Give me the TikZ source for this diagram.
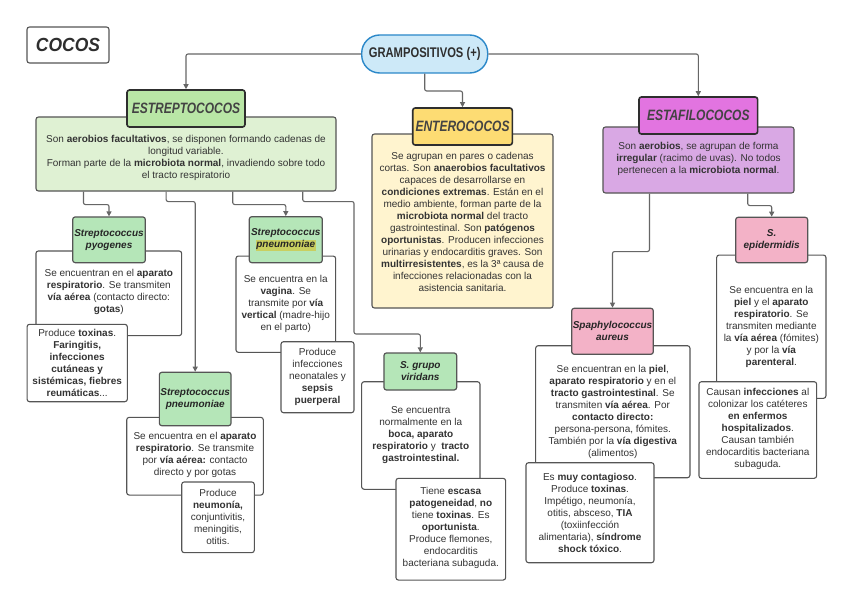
\documentclass[tikz,border=0pt]{standalone}
\usepackage{graphicx}
\usepackage{fontspec}
\setmainfont{Liberation Sans}
\usetikzlibrary{arrows.meta}
\definecolor{txtc}{HTML}{333333}
\definecolor{boxc}{HTML}{555555}
\definecolor{darkc}{HTML}{2E2E2E}
\definecolor{linec}{HTML}{666666}
\definecolor{gramfill}{HTML}{CDE9F8}
\definecolor{gramdraw}{HTML}{2B88C9}
\definecolor{strT}{HTML}{B9E6A6}
\definecolor{strD}{HTML}{DFF1D3}
\definecolor{spG}{HTML}{B5E6B8}
\definecolor{entT}{HTML}{FDDC73}
\definecolor{entD}{HTML}{FFF4CF}
\definecolor{estT}{HTML}{E274E0}
\definecolor{estD}{HTML}{D9A8E4}
\definecolor{spP}{HTML}{F3B2C7}
\definecolor{hl}{HTML}{C9CF60}
\newcommand\mytitle[1]{\scalebox{0.8}[1]{\fontsize{15}{15}\selectfont\bfseries\itshape #1}}
\begin{document}
\begin{tikzpicture}[x=1pt,y=-1pt,
  conn/.style={draw=linec, line width=1.1pt, rounded corners=2pt, -{Triangle[length=5pt,width=5pt]}},
  bigtitle/.style={draw=darkc, line width=1.6pt, rounded corners=2.5pt, fill=#1, inner sep=0pt, text=darkc!90},
  descbox/.style={draw=boxc, line width=1.1pt, rounded corners=2.5pt, fill=#1, inner sep=0pt},
  spt/.style={draw=boxc, line width=1.2pt, rounded corners=2.5pt, fill=#1, inner sep=0pt, align=center,
     font=\fontsize{10}{12}\selectfont\bfseries\itshape, text=black!85},
  body/.style={align=center, font=\fontsize{10}{12}\selectfont, text=txtc, inner sep=0pt}
]
\fill[white] (0,0) rectangle (848,599);
\useasboundingbox (0,0) rectangle (848,599);

% title
\node[draw=boxc, line width=1.1pt, rounded corners=2.5pt, fill=white, minimum width=82pt, minimum height=36pt, inner sep=0pt, text=darkc] (cocos) at (68,45) {\scalebox{0.92}[1]{\fontsize{19}{19}\selectfont\bfseries\itshape COCOS}};

\node[draw=gramdraw, line width=1.4pt, rounded corners=18pt, fill=gramfill, minimum width=126pt, minimum height=38pt, inner sep=0pt, text=darkc] (gram) at (424.7,54) {\scalebox{0.8}[1]{\fontsize{14}{14}\selectfont\bfseries GRAMPOSITIVOS (+)}};

% ESTREPTOCOCOS
\node[descbox=strD, minimum width=300pt, minimum height=74pt] (strepD) at (186,154) {};
\node[body] (strepDt) at (186,158) {Son \textbf{aerobios facultativos}, se disponen formando cadenas de\\longitud variable.\\Forman parte de la \textbf{microbiota normal}, invadiendo sobre todo\\el tracto respiratorio};
\node[bigtitle=strT, minimum width=118pt, minimum height=37pt] (strepT) at (186,108.5) {\mytitle{ESTREPTOCOCOS}};

% ENTEROCOCOS
\node[descbox=entD, minimum width=181pt, minimum height=174pt] (entD) at (462.5,221) {};
\node[body] (entDt) at (462.5,221.5) {Se agrupan en pares o cadenas\\cortas. Son \textbf{anaerobios facultativos}\\capaces de desarrollarse en\\\textbf{condiciones extremas}. Están en el\\medio ambiente, forman parte de la\\\textbf{microbiota normal} del tracto\\gastrointestinal. Son \textbf{patógenos}\\\textbf{oportunistas}. Producen infecciones\\urinarias y endocarditis graves. Son\\\textbf{multirresistentes}, es la 3ª causa de\\infecciones relacionadas con la\\asistencia sanitaria.};
\node[bigtitle=entT, minimum width=99.6pt, minimum height=37pt] (entT) at (462.5,126.5) {\mytitle{ENTEROCOCOS}};

% ESTAFILOCOCOS
\node[descbox=estD, minimum width=191pt, minimum height=66pt] (estD) at (698.5,160) {};
\node[body] (estDt) at (698.5,158.5) {Son \textbf{aerobios}, se agrupan de forma\\\textbf{irregular} (racimo de uvas). No todos\\pertenecen a la \textbf{microbiota normal}.};
\node[bigtitle=estT, minimum width=118.7pt, minimum height=37pt] (estT) at (698.3,115.5) {\mytitle{ESTAFILOCOCOS}};

% pyogenes
\node[descbox=white, minimum width=145.7pt, minimum height=84.7pt] (pyoD) at (108.8,293.3) {};
\node[body] (pyoDt) at (108.8,291.5) {Se encuentran en el \textbf{aparato}\\\textbf{respiratorio}. Se transmiten\\\textbf{vía aérea} (contacto directo:\\\textbf{gotas})};
\node[descbox=white, minimum width=100.3pt, minimum height=77.4pt] (pyoE) at (77.2,363) {};
\node[body] (pyoEt) at (77.2,362.5) {Produce \textbf{toxinas}.\\\textbf{Faringitis,}\\\textbf{infecciones}\\\textbf{cutáneas y}\\\textbf{sistémicas, fiebres}\\\textbf{reumáticas}...};
\node[spt=spG, minimum width=72.6pt, minimum height=45.7pt] (pyoT) at (109,239.8) {Streptococcus\\pyogenes};

% pneumoniae 1
\node[descbox=white, minimum width=99.7pt, minimum height=96.3pt] (pn1D) at (285.8,304.2) {};
\node[body] (pn1Dt) at (285.8,304) {Se encuentra en la\\\textbf{vagina}. Se\\transmite por \textbf{vía}\\\textbf{vertical} (madre-hijo\\en el parto)};
\node[descbox=white, minimum width=73pt, minimum height=71pt] (pn1E) at (317.5,377.2) {};
\node[body] (pn1Et) at (317.5,376.8) {Produce\\infecciones\\neonatales y\\\textbf{sepsis}\\\textbf{puerperal}};
\node[spt=spG, minimum width=73pt, minimum height=46pt] (pn1T) at (285.8,239.7) {Streptococcus\\{\setlength\fboxsep{0.8pt}\colorbox{hl}{pneumoniae}}};

% pneumoniae 2
\node[descbox=white, minimum width=136.6pt, minimum height=77.7pt] (pn2D) at (195,456.2) {};
\node[body] (pn2Dt) at (195,454.5) {Se encuentra en el \textbf{aparato}\\\textbf{respiratorio}. Se transmite\\por \textbf{vía aérea:} contacto\\directo y por gotas};
\node[descbox=white, minimum width=72.6pt, minimum height=70.7pt] (pn2E) at (218,517.3) {};
\node[body] (pn2Et) at (218,517) {Produce\\\textbf{neumonía,}\\conjuntivitis,\\meningitis,\\otitis.};
\node[spt=spG, minimum width=71.7pt, minimum height=53.4pt] (pn2T) at (195.2,399) {Streptococcus\\pneumoniae};

% viridans
\node[descbox=white, minimum width=118.3pt, minimum height=107.6pt] (virD) at (420.8,435.5) {};
\node[body] (virDt) at (420.8,434.8) {Se encuentra\\normalmente en la\\\textbf{boca, aparato}\\\textbf{respiratorio} y \ \textbf{tracto}\\\textbf{gastrointestinal.}};
\node[descbox=white, minimum width=109.7pt, minimum height=101.7pt] (virE) at (450.8,529.2) {};
\node[body] (virEt) at (450.8,528.3) {Tiene \textbf{escasa}\\\textbf{patogeneidad}, \textbf{no}\\tiene \textbf{toxinas}. Es\\\textbf{oportunista}.\\Produce flemones,\\endocarditis\\bacteriana subaguda.};
\node[spt=spG, minimum width=72.7pt, minimum height=37pt] (virT) at (420.3,371.5) {S. grupo\\viridans};

% aureus
\node[descbox=white, minimum width=154.3pt, minimum height=132pt] (aurD) at (612.8,411.7) {};
\node[body] (aurDt) at (612.8,412.3) {Se encuentran en la \textbf{piel},\\\textbf{aparato respiratorio} y en el\\\textbf{tracto gastrointestinal}. Se\\transmiten \textbf{vía aérea}. Por\\\textbf{contacto directo:}\\persona-persona, fómites.\\También por la \textbf{vía digestiva}\\(alimentos)};
\node[descbox=white, minimum width=128pt, minimum height=100pt] (aurE) at (590,512.7) {};
\node[body] (aurEt) at (590,513) {Es \textbf{muy contagioso}.\\Produce \textbf{toxinas}.\\Impétigo, neumonía,\\otitis, absceso, \textbf{TIA}\\(toxiinfección\\alimentaria), \textbf{síndrome}\\\textbf{shock tóxico}.};
\node[spt=spP, minimum width=81.6pt, minimum height=46pt] (aurT) at (612.5,331.3) {Spaphylococcus\\aureus};

% epidermidis
\node[descbox=white, minimum width=109.3pt, minimum height=143.3pt] (epiD) at (771.3,326.7) {};
\node[body] (epiDt) at (771.3,327) {Se encuentra en la\\\textbf{piel} y el \textbf{aparato}\\\textbf{respiratorio}. Se\\transmiten mediante\\la \textbf{vía aérea} (fómites)\\y por la \textbf{vía}\\\textbf{parenteral}.};
\node[descbox=white, minimum width=117.7pt, minimum height=96.6pt] (epiE) at (757.8,430) {};
\node[body] (epiEt) at (757.8,428.7) {Causan \textbf{infecciones} al\\colonizar los catéteres\\\textbf{en enfermos}\\\textbf{hospitalizados}.\\Causan también\\endocarditis bacteriana\\subaguda.};
\node[spt=spP, minimum width=72pt, minimum height=45.4pt] (epiT) at (771.7,240) {S.\\epidermidis};

% connectors
\draw[conn] (gram.west) -| (strepT.north);
\draw[conn] (gram.east) -| (estT.north);
\draw[conn] (gram.south) -- ++(0,17.3) -| (entT.north);

\draw[conn] (strepD.south west) ++(48,0) -- ++(0,13) -| (pyoT.north);
\draw[conn] (strepD.south west) ++(130.7,0) -- ++(0,10) -| (pn2T.north);
\draw[conn] (strepD.south west) ++(197.3,0) -- ++(0,13) -| (pn1T.north);
\coordinate (bend4) at (354,334);
\draw[conn] (strepD.south west) ++(267.3,0) -- ++(0,10) -| (bend4) -| (virT.north);

\draw[conn] (estD.south west) ++(47,0) -- ++(0,58) -| (aurT.north);
\draw[conn] (estD.south west) ++(145.3,0) -- ++(0,12) -| (epiT.north);
\end{tikzpicture}
\end{document}
